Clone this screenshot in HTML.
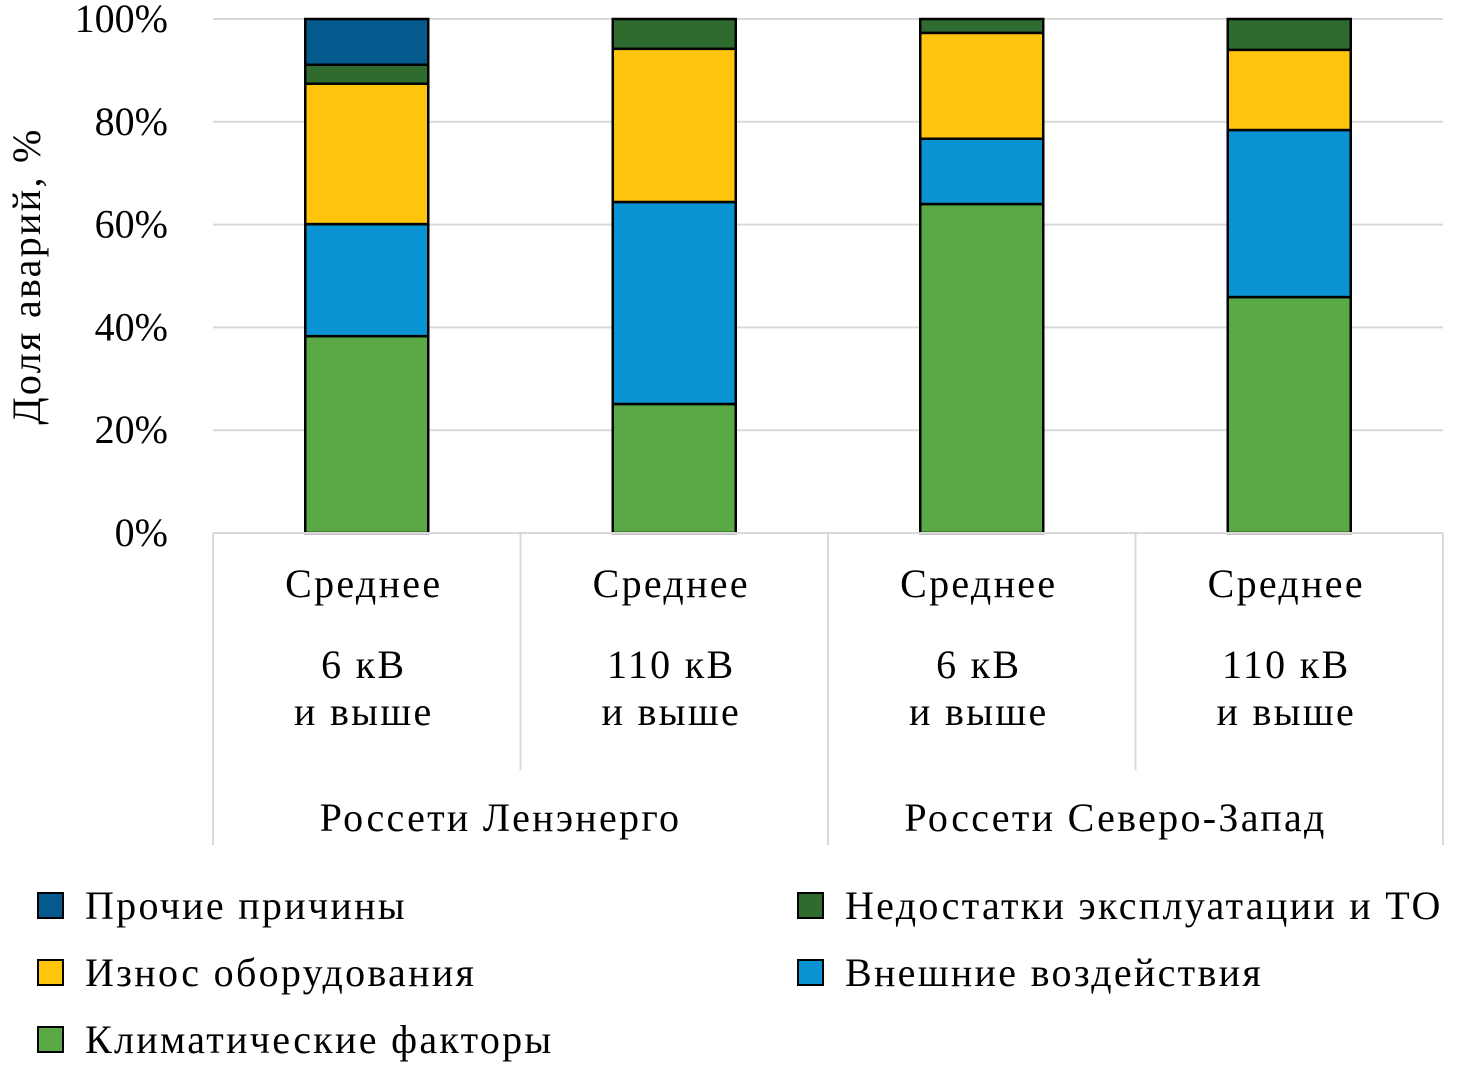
<!DOCTYPE html>
<html><head><meta charset="utf-8">
<style>
html,body{margin:0;padding:0;background:#fff;}
svg text{font-family:"Liberation Serif",serif;fill:#000;}
.ls{letter-spacing:2.3px;}
</style></head>
<body>
<svg id="chart" width="1457" height="1072" viewBox="0 0 1457 1072" xmlns="http://www.w3.org/2000/svg">
<g id="grid"></g>
<g id="bars"></g>
<g id="xaxis"></g>
<g id="legend"></g>
<text class="ls" transform="translate(40,276) rotate(-90)" text-anchor="middle" font-size="40">Доля аварий, %</text>
</svg>
<script>
const categories = ["Среднее|6 кВ|и выше","Среднее|110 кВ|и выше","Среднее|6 кВ|и выше","Среднее|110 кВ|и выше"];
const groups = ["Россети Ленэнерго","Россети Северо-Запад"];
const climatic = [38.3, 25.1, 64.0, 45.9];
const external = [21.8, 39.3, 12.7, 32.5];
const wear = [27.3, 29.8, 20.6, 15.6];
const operation = [3.7, 5.8, 2.7, 6.0];
const other = [8.9, 0, 0, 0];
const yTicks = [0,20,40,60,80,100];
const seriesNames = ["Климатические факторы","Внешние воздействия","Износ оборудования","Недостатки эксплуатации и ТО","Прочие причины"];
const seriesColors = ["#5aa846","#0a93d2","#ffc40c","#2f6b2f","#045a8d"];
const series = [climatic, external, wear, operation, other];

const NS="http://www.w3.org/2000/svg";
const x0=213, x1=1443, y0=533, y1=19;
const bandW=(x1-x0)/categories.length, barW=123;
function y(v){return y0-(y0-y1)*v/100;}
function xc(i){return x0+bandW*(i+0.5);}
function mk(tag,attrs,parent){const e=document.createElementNS(NS,tag);for(const k in attrs)e.setAttribute(k,attrs[k]);parent.appendChild(e);return e;}

const grid=document.getElementById('grid');
yTicks.forEach(t=>{
  if(t>0){const l=mk('line',{x1:x0,x2:x1,y1:y(t),y2:y(t),stroke:'#d9d9d9','stroke-width':2},grid);
  
  }
  const tx=mk('text',{x:168,y:y(t)+13,'text-anchor':'end','font-size':40},grid);
  tx.textContent=t+'%';
  
  
});

const bars=document.getElementById('bars');
categories.forEach((c,i)=>{
  let acc=0;
  series.forEach((s,k)=>{
    const v=s[i]; if(v<=0)return;
    const r=mk('rect',{x:xc(i)-barW/2,y:y(acc+v),width:barW,height:y(acc)-y(acc+v),fill:seriesColors[k],stroke:'#000','stroke-width':2.5},bars);
    
    
    acc+=v;
  });
});

const xa=document.getElementById('xaxis');
const axl=mk('line',{x1:x0,x2:x1,y1:y0,y2:y0,stroke:'#d9d9d9','stroke-width':2},xa);


for(let i=0;i<=categories.length;i++){
  const xx=x0+bandW*i;
  const full=(i%2===0);
  const l=mk('line',{x1:xx,x2:xx,y1:y0,y2:full?845:770,stroke:'#d9d9d9','stroke-width':2},xa);
  
  
}
categories.forEach((c,i)=>{
  const parts=c.split('|');
  const ys=[597,678,725];
  parts.forEach((p,j)=>{
    const t=mk('text',{x:xc(i)-3,y:ys[j],'text-anchor':'middle','font-size':40,'class':'ls'},xa);
    t.textContent=p;
    
    
  });
});
groups.forEach((g,i)=>{
  const t=mk('text',{x:x0+bandW*(2*i+1)-20,y:831,'text-anchor':'middle','font-size':40,'class':'ls'},xa);
  t.textContent=g;
  
  
});

const lg=document.getElementById('legend');
const order=[[4,38,893],[3,798,893],[2,38,960],[1,798,960],[0,38,1027]];
order.forEach(([k,lx,ly])=>{
  const r=mk('rect',{x:lx,y:ly,width:25,height:25,fill:seriesColors[k],stroke:'#000','stroke-width':2},lg);
  
  
  const t=mk('text',{x:lx+47,y:ly+26,'font-size':40,'class':'ls'},lg);
  t.textContent=seriesNames[k];
  
  
});
</script>
</body></html>
